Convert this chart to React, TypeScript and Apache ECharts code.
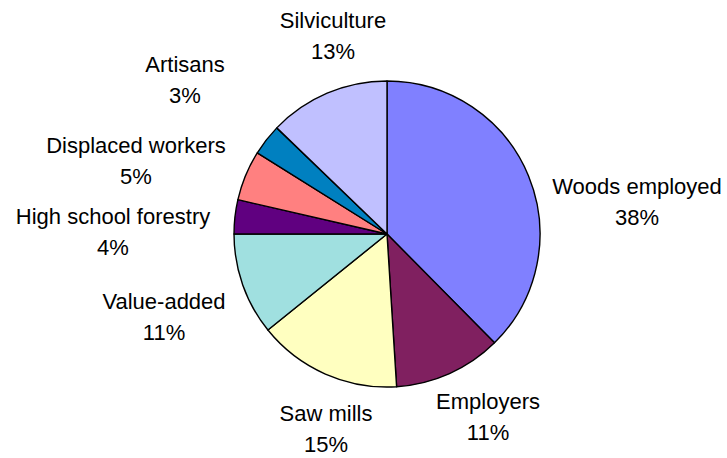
import React, { useEffect, useRef } from "react";
import * as echarts from "echarts";

// ---- data ----
const categories = [
  "Woods employed",
  "Employers",
  "Saw mills",
  "Value-added",
  "High school forestry",
  "Displaced workers",
  "Artisans",
  "Silviculture",
];
const shares = [37.6, 11.4, 15.2, 10.8, 3.6, 5.3, 3.3, 12.8];

// ---- styles / layout ----
const sliceColors = [
  "#8080FF",
  "#802060",
  "#FFFFC0",
  "#A0E0E0",
  "#600080",
  "#FF8080",
  "#0080C0",
  "#C0C0FF",
];

// centres of the two-line label blocks (annotation layout)
const labelCenters: [number, number][] = [
  [637, 202],
  [488, 417],
  [326, 429],
  [164, 317],
  [113, 232],
  [136, 161],
  [185, 80],
  [333, 36],
];

const FONT = '"Liberation Sans", Arial, sans-serif';

export default function App() {
  const ref = useRef<HTMLDivElement>(null);

  useEffect(() => {
    if (!ref.current) return;
    const chart = echarts.init(ref.current, undefined, { renderer: "svg" });
    chart.setOption({
      animation: false,
      backgroundColor: "#ffffff",
      series: [
        {
          type: "pie",
          center: [387, 234],
          radius: 153,
          startAngle: 90,
          clockwise: true,
          avoidLabelOverlap: false,
          silent: true,
          itemStyle: { borderColor: "#000000", borderWidth: 1.4 },
          label: {
            show: true,
            position: "outside",
            color: "#000000",
            fontFamily: FONT,
            fontSize: 22,
            lineHeight: 31,
            align: "center",
            formatter: (p: any) => `${p.name}\n${Math.round(p.percent)}%`,
          },
          labelLine: { show: false },
          labelLayout: (params: any) => {
            const c = labelCenters[params.dataIndex];
            return { x: c[0], y: c[1], align: "center", verticalAlign: "middle" };
          },
          emphasis: { disabled: true },
          data: categories.map((name, i) => ({
            name,
            value: shares[i],
            itemStyle: { color: sliceColors[i] },
          })),
        },
      ],
    });
    return () => chart.dispose();
  }, []);

  return (
    <div
      ref={ref}
      style={{ position: "absolute", left: 0, top: 0, width: 727, height: 458 }}
    />
  );
}
